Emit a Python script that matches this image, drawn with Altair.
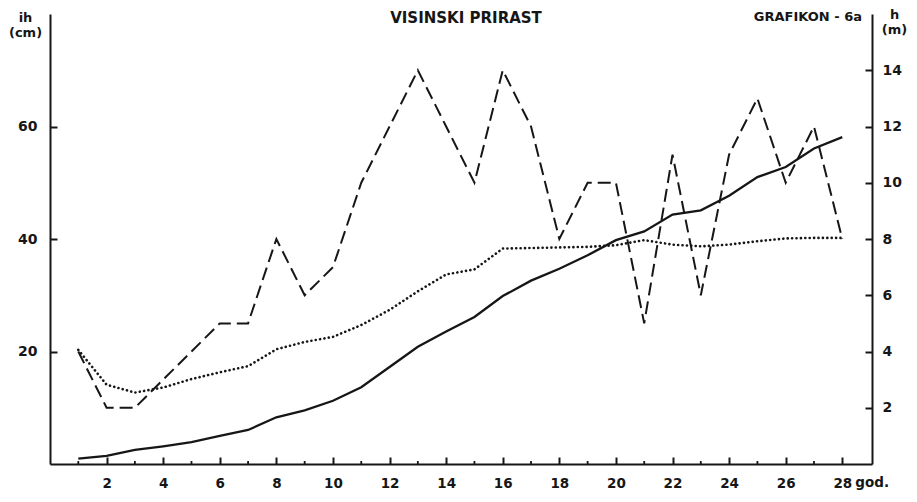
import altair as alt
import pandas as pd

# ---- data ----
years = list(range(1, 29))
# annual height increment ih (cm) - dashed line, left axis
ih_cm = [20, 10, 10, 15, 20, 25, 25, 40, 30, 35, 50, 60, 70, 60, 50, 70, 60, 40,
         50, 50, 25, 55, 30, 55, 65, 50, 60, 40]
# average increment (cm) - dotted line, left axis
mean_cm = [20.3, 14.1, 12.7, 13.6, 15.1, 16.3, 17.4, 20.4, 21.7, 22.6, 24.7, 27.4,
           30.7, 33.7, 34.6, 38.3, 38.4, 38.5, 38.6, 38.9, 39.8, 39.0, 38.7, 39.0,
           39.6, 40.1, 40.2, 40.2]
# total height h (m) - solid line, right axis
h_m = [0.19, 0.29, 0.50, 0.63, 0.78, 1.00, 1.21, 1.66, 1.91, 2.25, 2.73, 3.45,
       4.17, 4.71, 5.23, 5.97, 6.52, 6.94, 7.42, 7.96, 8.27, 8.87, 9.02, 9.54,
       10.20, 10.56, 11.22, 11.62]

x_major = [2, 4, 6, 8, 10, 12, 14, 16, 18, 20, 22, 24, 26, 28]
x_minor = [1, 3, 5, 7, 9, 11, 13, 15, 17, 19, 21, 23, 25, 27]
left_ticks = [20, 40, 60]
right_ticks = [2, 4, 6, 8, 10, 12, 14]
unit_label = ["god."]
chart_label = ["GRAFIKON - 6a"]
title_label = ["VISINSKI PRIRAST"]

W, H = 822, 450
FONT = "DejaVu Sans"
INK = "#161616"
INWARD = {"expr": "-7"}

df = pd.DataFrame({"year": years, "ih": ih_cm, "mean": mean_cm, "h": h_m})
df_xmin = pd.DataFrame({"year": x_minor})
df_god = pd.DataFrame({"t": unit_label, "year": [x_major[-1]]})
df_graf = pd.DataFrame({"t": chart_label})
df_title = pd.DataFrame({"t": title_label})

x_scale = alt.Scale(domain=[0, 29.05], nice=False, zero=False)
x_axis = alt.Axis(values=x_major, title=None, grid=False,
                  tickSize=INWARD, labelPadding=19, labelFontSize=13.5)
X = alt.X("year:Q", scale=x_scale, axis=x_axis)

left_scale = alt.Scale(domain=[0, 80], nice=False)
right_scale = alt.Scale(domain=[0, 16], nice=False)

left_axis = alt.Axis(values=left_ticks, orient="left", grid=False,
                     tickSize=INWARD, labelPadding=20,
                     title=["ih", "(cm)"], titleAngle=0,
                     titleX=-25, titleY=7, titleAlign="center",
                     titleBaseline="alphabetic", titleLineHeight=15,
                     titleFont=FONT, titleFontSize=13, titleFontWeight="bold",
                     titleColor=INK)
right_axis = alt.Axis(values=right_ticks, orient="right", grid=False,
                      tickSize=INWARD, labelPadding=17,
                      title=["h", "(m)"], titleAngle=0,
                      titleX=22, titleY=4, titleAlign="center",
                      titleBaseline="alphabetic", titleLineHeight=15,
                      titleFont=FONT, titleFontSize=13, titleFontWeight="bold",
                      titleColor=INK)

dashed = alt.Chart(df).mark_line(color=INK, strokeWidth=2, strokeDash=[13, 6]).encode(
    x=X, y=alt.Y("ih:Q", scale=left_scale, axis=left_axis))

dotted = alt.Chart(df).mark_line(color=INK, strokeWidth=2.6, strokeDash=[0.1, 4.3],
                                 strokeCap="round").encode(
    x=X, y=alt.Y("mean:Q", scale=left_scale, axis=None))

solid = alt.Chart(df).mark_line(color=INK, strokeWidth=2.3).encode(
    x=X, y=alt.Y("h:Q", scale=right_scale, axis=right_axis))

minor_ticks = alt.Chart(df_xmin).mark_rule(color=INK, strokeWidth=1.8).encode(
    x=X, y=alt.value(H - 3), y2=alt.value(H))

god = alt.Chart(df_god).mark_text(align="left", baseline="top", dx=13,
                                  font=FONT, fontSize=13.5, fontWeight="bold",
                                  color=INK).encode(
    x=X, y=alt.value(H + 12), text="t:N")

grafikon = alt.Chart(df_graf).mark_text(align="right", baseline="alphabetic",
                                        font=FONT, fontSize=13, fontWeight="bold",
                                        color=INK).encode(
    x=alt.value(812), y=alt.value(7), text="t:N")

title = alt.Chart(df_title).mark_text(align="center", baseline="alphabetic",
                                      font=FONT, fontSize=15, fontWeight="bold",
                                      color=INK).encode(
    x=alt.value(416), y=alt.value(9), text="t:N")

chart = alt.layer(dashed, dotted, solid, minor_ticks, god, grafikon, title).resolve_scale(
    y="independent"
).properties(
    width=W, height=H,
    autosize=alt.AutoSizeParams(type="none"),
    padding={"left": 42, "top": 6, "right": 37, "bottom": 30},
    background="white",
).configure_view(stroke=None).configure_axis(
    domainColor=INK, domainWidth=2, tickColor=INK, tickWidth=2,
    labelColor=INK, labelFont=FONT, labelFontWeight="bold", labelFontSize=14,
)

chart.save("out.html", embed_options={"renderer": "svg", "actions": False})
